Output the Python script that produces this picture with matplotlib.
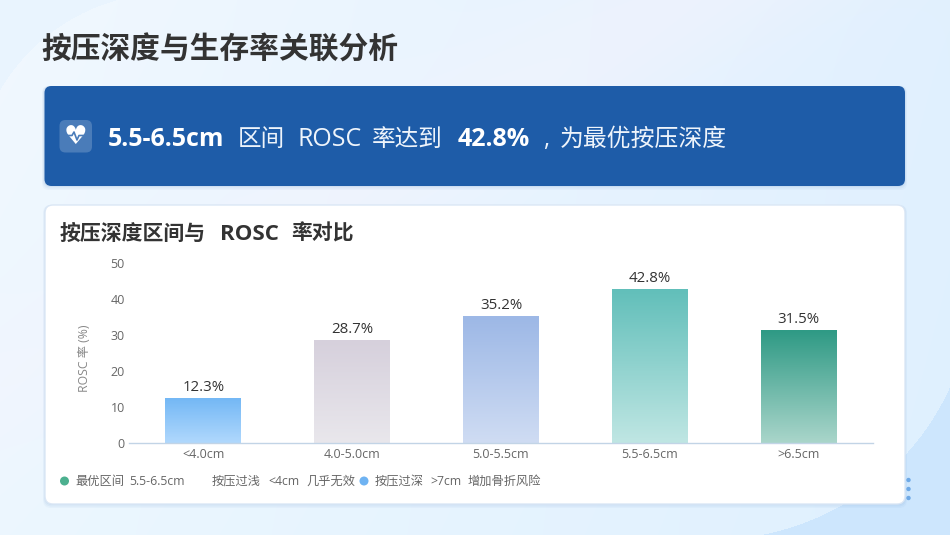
import numpy as np
import matplotlib
matplotlib.use("Agg")
import matplotlib.pyplot as plt
from matplotlib.colors import LinearSegmentedColormap, to_rgb
from matplotlib.patches import FancyBboxPatch, Circle

FONTS = ['Open Sans', 'Noto Sans CJK SC', 'DejaVu Sans']
plt.rcParams['font.family'] = FONTS

categories = ['<4.0cm', '4.0-5.0cm', '5.0-5.5cm', '5.5-6.5cm', '>6.5cm']
rosc_rate = [12.3, 28.7, 35.2, 42.8, 31.5]
bar_top_colors = ['#74b8f5', '#d6d0dc', '#9db8e6', '#62bfba', '#2f9a85']
bar_bottom_colors = ['#b0d8fd', '#e9e7ec', '#cfdcf3', '#bfe6e3', '#a9d5ca']
y_ticks = [0, 10, 20, 30, 40, 50]

W, H = 950, 535
fig = plt.figure(figsize=(9.5, 5.35), dpi=100)

# page background, in pixel coordinates
bg = fig.add_axes([0, 0, 1, 1])
bg.set_xlim(0, W)
bg.set_ylim(H, 0)
bg.axis('off')

px, py = np.meshgrid((np.arange(W) + 0.5) / W, (np.arange(H) + 0.5) / H)
tl, tr, bl, br = [np.array(to_rgb(c)) for c in ['#f1f8ff', '#e1f0fe', '#ecf7ff', '#dff0fe']]
page = ((1 - px) * (1 - py))[..., None] * tl + (px * (1 - py))[..., None] * tr \
    + ((1 - px) * py)[..., None] * bl + (px * py)[..., None] * br
# faint lavender band running across the diagonal
band = np.exp(-((px + py - 0.72) / 0.16) ** 2)[..., None]
page = page * (1 - 0.5 * band) + np.array(to_rgb('#f3f3fd')) * 0.5 * band
xx, yy = np.meshgrid(np.arange(W) + 0.5, np.arange(H) + 0.5)
# top left corner arc
mask_tl = (np.hypot(xx - 170, yy - 190) > 197) & (xx < 170) & (yy < 190)
page[mask_tl] = to_rgb('#e9f4fe')
# bottom right corner
mask_br = (((xx - 710) / 262) ** 2 + ((yy - 285) / 255) ** 2 > 1) & (xx > 700) & (yy > 285)
page[mask_br] = to_rgb('#cde6fd')
bg.imshow(page, extent=[0, W, H, 0], aspect='auto', interpolation='bilinear', zorder=0)
bg.set_xlim(0, W)
bg.set_ylim(H, 0)


def rounded(x0, y0, x1, y1, r, **kw):
    p = FancyBboxPatch((x0 + r, y0 + r), x1 - x0 - 2 * r, y1 - y0 - 2 * r,
                       boxstyle='round,pad=%g,rounding_size=%g' % (r, r), **kw)
    bg.add_patch(p)
    return p


def label(x, y, s, size, color, weight='normal'):
    bg.text(x, y, s, fontsize=size, color=color, fontweight=weight, ha='left', va='baseline', zorder=6)


# soft shadows
for off, a in [(4, 0.05), (2.5, 0.07), (1, 0.1)]:
    rounded(44 - off / 2, 86, 905 + off / 2, 186 + off, 7, fc='#5f8fc8', ec='none', alpha=a, zorder=3)
    rounded(45 - off / 2, 205, 905 + off / 2, 504 + off, 8, fc='#5f8fc8', ec='none', alpha=a, zorder=3)

rounded(44.5, 86, 905, 186, 7, fc='#1e5ca8', ec='none', zorder=4)
rounded(45, 205, 905, 504, 8, fc='white', ec='#dbe7f5', lw=1, zorder=4)

label(41.5, 59, '按压深度与生存率关联分析', 21.4, '#333333', 'bold')

# banner icon
rounded(59.5, 120, 92, 152.5, 6, fc='#4a7cb9', ec='none', zorder=5)
bg.text(75.7, 136.5, '♥', fontsize=19, color='white', ha='center', va='center', zorder=6,
        family=['DejaVu Sans'])
bg.plot([67, 72, 74, 77, 79, 85], [135.5, 135.5, 132, 140, 135.5, 135.5], color='#4a7cb9', lw=1.2, zorder=7)

base = 146
label(108, base, '5.5-6.5cm', 18, 'white', 'bold')
label(238, base, '区间', 17, '#eef4fb')
label(298, base, 'ROSC', 18, '#eef4fb')
label(372, base, '率达到', 17, '#eef4fb')
label(458, base, '42.8%', 18, 'white', 'bold')
label(543, base, ',', 17, '#eef4fb')
label(560, base, '为最优按压深度', 17.2, '#eef4fb')

label(60, 240, '按压深度区间与', 15, '#333333', 'bold')
label(220, 240, 'ROSC', 16, '#333333', 'bold')
label(291, 240, '率对比', 15, '#333333', 'bold')

# legend row
leg_y = 481
bg.add_patch(Circle((64.5, leg_y), 4.5, fc='#4cb08f', ec='none', zorder=6))
bg.add_patch(Circle((364, leg_y), 4.5, fc='#6fb3f2', ec='none', zorder=6))
for x, t in [(75, '最优区间'), (129, '5.5-6.5cm'), (212, '按压过浅'), (268, '<4cm'), (306, '几乎无效'),
             (375, '按压过深'), (430, '>7cm'), (468, '增加骨折风险')]:
    label(x, leg_y + 4, t, 8.8, '#666666')

# dots at the lower right
for y in [480, 489, 498]:
    bg.add_patch(Circle((908.5, y), 2.2, fc='#6ea9e6', ec='none', zorder=6))

# chart axes
ax = fig.add_axes([129 / W, 1 - 442.5 / H, (873 - 129) / W, (442.5 - 263.5) / H])
ax.patch.set_alpha(0)
x = np.arange(len(categories))
bars = ax.bar(x, rosc_rate, width=0.51, color='none', zorder=2)
for b, top, bottom, v in zip(bars, bar_top_colors, bar_bottom_colors, rosc_rate):
    cmap = LinearSegmentedColormap.from_list('b', [top, bottom])
    ax.imshow(np.linspace(0, 1, 64).reshape(-1, 1), cmap=cmap, aspect='auto', zorder=2,
              extent=[b.get_x(), b.get_x() + b.get_width(), 0, v], origin='upper')
    ax.text(b.get_x() + b.get_width() / 2, v + 0.9, '%.1f%%' % v, ha='center', va='bottom',
            fontsize=10.8, color='#333333')
ax.set_xlim(-0.5, 4.5)
ax.set_ylim(0, 50)

for s in ['top', 'right', 'left']:
    ax.spines[s].set_visible(False)
ax.spines['bottom'].set_color('#c2d4e6')
ax.spines['bottom'].set_linewidth(1)
ax.set_xticks(x, categories)
ax.set_yticks(y_ticks)
ax.tick_params(axis='x', length=0, labelsize=9, labelcolor='#666666', pad=4)
ax.tick_params(axis='y', length=0, labelsize=9, labelcolor='#666666', pad=3)
bg.text(85, 358, 'ROSC 率 (%)', fontsize=8.8, color='#888888', rotation=90, ha='center', va='center', zorder=6)

fig.savefig('out.png', dpi=100)
